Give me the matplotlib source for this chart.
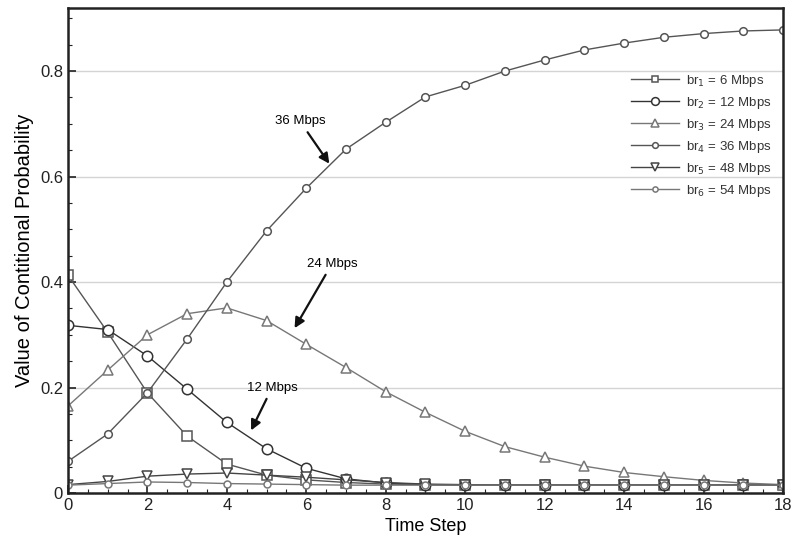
import matplotlib
matplotlib.use("Agg")
import matplotlib.pyplot as plt
from matplotlib.ticker import MultipleLocator

plt.rcParams['font.family'] = ['Liberation Sans', 'DejaVu Sans']

time_steps = list(range(19))
br1_6 = [0.413, 0.305, 0.19, 0.108, 0.055, 0.034, 0.025, 0.02, 0.017, 0.016, 0.015, 0.015, 0.015, 0.015, 0.015, 0.015, 0.015, 0.015, 0.015]
br2_12 = [0.318, 0.31, 0.26, 0.197, 0.134, 0.084, 0.047, 0.027, 0.019, 0.016, 0.015, 0.015, 0.015, 0.015, 0.015, 0.015, 0.015, 0.015, 0.015]
br3_24 = [0.165, 0.233, 0.3, 0.34, 0.351, 0.327, 0.282, 0.238, 0.192, 0.153, 0.117, 0.088, 0.068, 0.051, 0.039, 0.031, 0.024, 0.019, 0.016]
br4_36 = [0.06, 0.112, 0.19, 0.292, 0.4, 0.497, 0.578, 0.652, 0.703, 0.751, 0.773, 0.8, 0.821, 0.84, 0.853, 0.864, 0.871, 0.876, 0.878]
br5_48 = [0.016, 0.022, 0.032, 0.036, 0.038, 0.034, 0.03, 0.025, 0.02, 0.017, 0.016, 0.015, 0.015, 0.015, 0.015, 0.015, 0.015, 0.015, 0.015]
br6_54 = [0.015, 0.018, 0.021, 0.02, 0.018, 0.017, 0.016, 0.015, 0.015, 0.015, 0.015, 0.015, 0.015, 0.015, 0.015, 0.015, 0.015, 0.015, 0.015]

labels = [r'br$_1$ = 6 Mbps', r'br$_2$ = 12 Mbps', r'br$_3$ = 24 Mbps',
          r'br$_4$ = 36 Mbps', r'br$_5$ = 48 Mbps', r'br$_6$ = 54 Mbps']
series = [br1_6, br2_12, br3_24, br4_36, br5_48, br6_54]
markers = ['s', 'o', '^', 'o', 'v', 'o']
msizes = [6.5, 7.5, 7, 5.5, 7, 5]
colors = ['#555555', '#333333', '#777777', '#555555', '#444444', '#777777']

fig = plt.figure(figsize=(7.99, 5.54), dpi=100)
ax = fig.add_axes([0.085, 0.11, 0.895, 0.876])

for ys, lab, m, ms, c in zip(series, labels, markers, msizes, colors):
    ax.plot(time_steps, ys, marker=m, markersize=ms, color=c, markerfacecolor='white',
            markeredgecolor=c, markeredgewidth=1.1, linewidth=1.0, label=lab)

ax.set_xlim(0, 18)
ax.set_ylim(0, 0.92)
ax.xaxis.set_major_locator(MultipleLocator(2))
ax.xaxis.set_minor_locator(MultipleLocator(0.5))
ax.yaxis.set_major_locator(MultipleLocator(0.2))
ax.yaxis.set_minor_locator(MultipleLocator(0.05))
ax.tick_params(which='both', direction='in', top=False, right=False, labelsize=12, colors='#222222')
ax.tick_params(which='major', length=6, width=1.2)
ax.tick_params(which='minor', length=3, width=0.8)
ax.set_yticks([0, 0.2, 0.4, 0.6, 0.8])
ax.set_yticklabels(['0', '0.2', '0.4', '0.6', '0.8'])
for sp in ax.spines.values():
    sp.set_linewidth(1.8)
    sp.set_color('#222222')
for yv in [0.2, 0.4, 0.6, 0.8]:
    ax.axhline(yv, color='#d4d4d4', linewidth=1.0, zorder=0)

ax.set_xlabel('Time Step', fontsize=13)
ax.set_ylabel('Value of Contitional Probability', fontsize=14.5)

leg = ax.legend(loc='upper right', bbox_to_anchor=(1.0, 0.89), frameon=False, fontsize=9.5,
                handlelength=3.6, handletextpad=0.5, labelspacing=0.45, markerscale=0.75)
for t in leg.get_texts():
    t.set_color('#333333')

arrowprops = dict(arrowstyle='-|>', color='#111111', lw=1.6, mutation_scale=15)
ax.annotate('36 Mbps', xy=(6.62, 0.62), xytext=(5.84, 0.705), fontsize=9.5,
            ha='center', va='center', arrowprops=arrowprops)
ax.annotate('24 Mbps', xy=(5.67, 0.308), xytext=(6.65, 0.435), fontsize=9.5,
            ha='center', va='center', arrowprops=arrowprops)
ax.annotate('12 Mbps', xy=(4.58, 0.114), xytext=(5.14, 0.2), fontsize=9.5,
            ha='center', va='center', arrowprops=arrowprops)

fig.savefig('out.png', dpi=100)
